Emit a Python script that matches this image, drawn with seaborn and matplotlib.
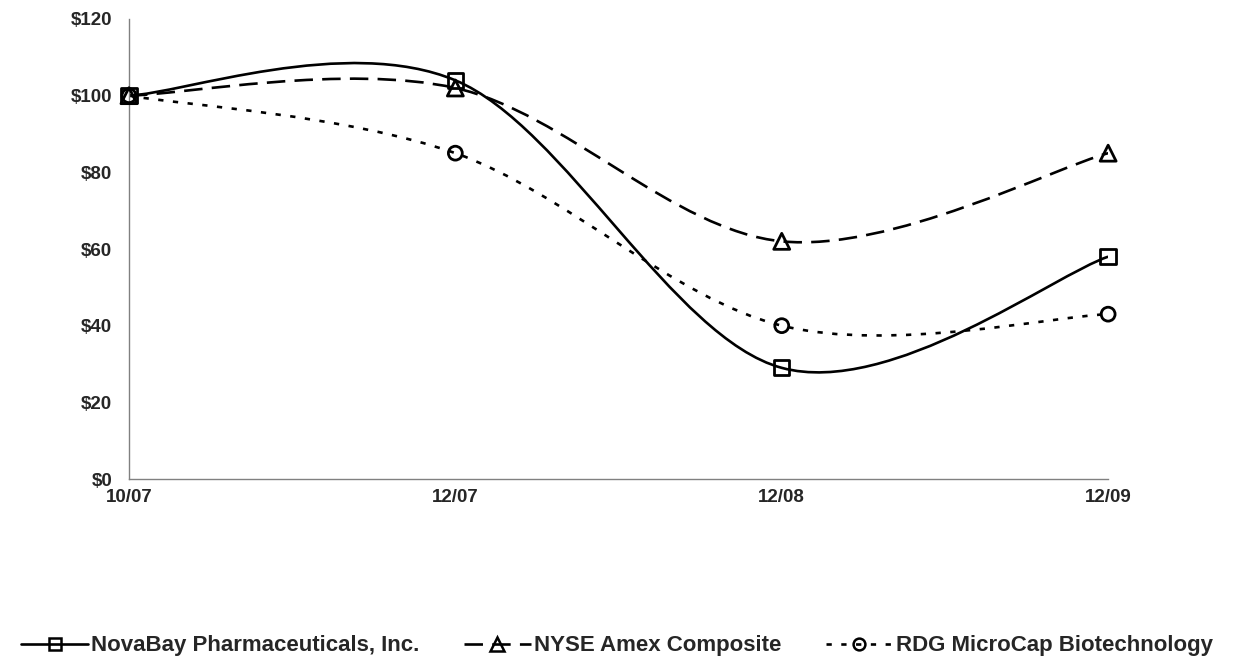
import numpy as np
import pandas as pd
import matplotlib
matplotlib.use("Agg")
import matplotlib.pyplot as plt
import seaborn as sns
from matplotlib.path import Path
from matplotlib.patches import PathPatch
from matplotlib.lines import Line2D

# data
periods = ['10/07', '12/07', '12/08', '12/09']
novabay = [100, 104, 29, 58]
nyse_amex = [100, 102, 62, 85]
rdg_microcap = [100, 85, 40, 43]
yticks = [0, 20, 40, 60, 80, 100, 120]
ytick_labels = ['$0', '$20', '$40', '$60', '$80', '$100', '$120']

series = {
    'NovaBay Pharmaceuticals, Inc.': novabay,
    'NYSE Amex Composite': nyse_amex,
    'RDG MicroCap Biotechnology': rdg_microcap,
}
styles = {
    'NovaBay Pharmaceuticals, Inc.': dict(marker='s', ms=11, dash=None),
    'NYSE Amex Composite': dict(marker='^', ms=11.5, dash=(0, (7, 3.5))),
    'RDG MicroCap Biotechnology': dict(marker='o', ms=10, dash=(0, (2, 3.6))),
}

sns.set_style("white")
plt.rcParams['font.family'] = ['Liberation Sans', 'DejaVu Sans']
plt.rcParams['font.weight'] = 'bold'

fig = plt.figure(figsize=(12.34, 6.64), dpi=100)
ax = fig.add_axes([0.1045, 0.2786, 0.7935, 0.6928])

x = np.arange(len(periods), dtype=float)
LW = 1.9


def smooth_path(xs, ys):
    # Catmull-Rom style bezier, like a spreadsheet "smoothed line"
    pts = np.column_stack([xs, ys])
    verts = [pts[0]]
    codes = [Path.MOVETO]
    n = len(pts)
    for i in range(n - 1):
        p0 = pts[i - 1] if i > 0 else pts[i]
        p1 = pts[i]
        p2 = pts[i + 1]
        p3 = pts[i + 2] if i + 2 < n else pts[i + 1]
        c1 = p1 + (p2 - p0) / 6.0
        c2 = p2 - (p3 - p1) / 6.0
        verts += [c1, c2, p2]
        codes += [Path.CURVE4] * 3
    return Path(verts, codes)


handles = []
for name, vals in series.items():
    st = styles[name]
    ls = st['dash'] if st['dash'] else '-'
    patch = PathPatch(smooth_path(x, vals), fill=False, edgecolor='black',
                      lw=LW, linestyle=ls, zorder=2, capstyle='butt')
    ax.add_patch(patch)
    df = pd.DataFrame({'x': x, 'y': vals})
    sns.scatterplot(data=df, x='x', y='y', marker=st['marker'], s=st['ms'] ** 2,
                    facecolor='none', edgecolor='black', linewidth=2.0,
                    zorder=3, ax=ax, legend=False, clip_on=False)
    handles.append(Line2D([0], [0], color='black', lw=LW, linestyle=ls,
                          marker=st['marker'], ms=st['ms'] * 0.85,
                          markerfacecolor='none', markeredgecolor='black',
                          markeredgewidth=1.8, label=name))

ax.set_xlim(0, 3)
ax.set_ylim(0, 120)
ax.set_xticks(x)
ax.set_xticklabels(periods, fontsize=13.5, fontweight='bold')
ax.set_yticks(yticks)
ax.set_yticklabels(ytick_labels, fontsize=13.5, fontweight='bold')
ax.set_xlabel('')
ax.set_ylabel('')
for s in ['top', 'right']:
    ax.spines[s].set_visible(False)
for s in ['left', 'bottom']:
    ax.spines[s].set_color('#808080')
    ax.spines[s].set_linewidth(1.0)
ax.tick_params(axis='y', direction='out', length=5, width=0.8, color='#808080', pad=7)
ax.tick_params(axis='x', direction='in', length=5, width=0.8, color='#808080', pad=7)
ax.grid(False)

fig.legend(handles=handles, loc='center', bbox_to_anchor=(0.5, 1 - 646 / 664),
           ncol=3, frameon=False, handlelength=3.0, handletextpad=0.15,
           columnspacing=2.0, prop={'size': 16, 'weight': 'bold'})

fig.savefig('out.png', dpi=100)
